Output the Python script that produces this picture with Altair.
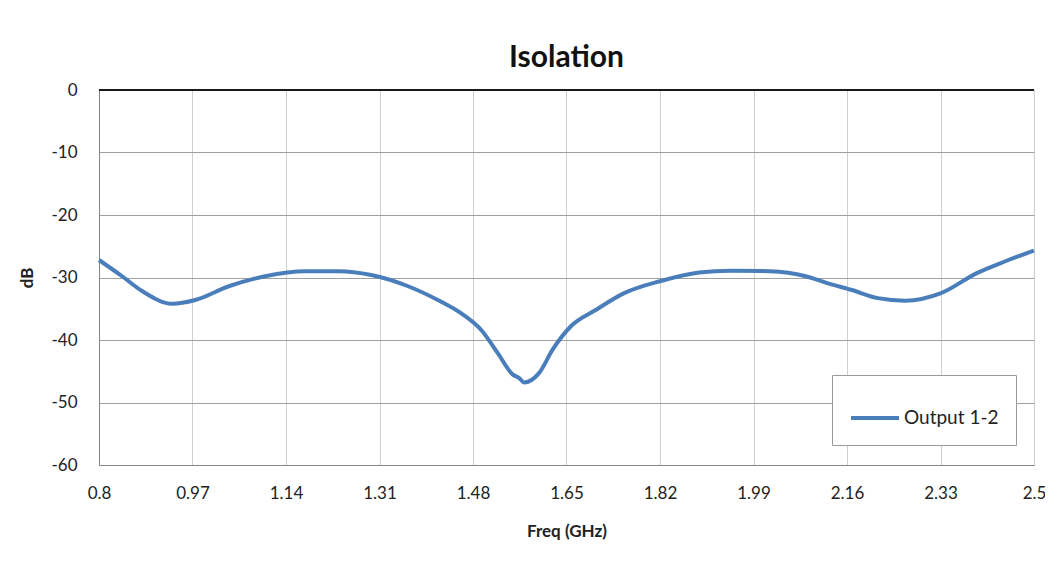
import altair as alt
import pandas as pd

freq = [0.80, 0.842, 0.879, 0.933, 0.975, 1.036, 1.102, 1.175, 1.235, 1.295,
        1.362, 1.416, 1.458, 1.495, 1.525, 1.552, 1.564, 1.573, 1.600, 1.625,
        1.658, 1.703, 1.755, 1.820, 1.891, 1.949, 2.020, 2.085, 2.124, 2.169,
        2.216, 2.266, 2.331, 2.396, 2.448, 2.50]
db = [-27.2, -29.8, -32.2, -34.2, -33.6, -31.4, -29.8, -29.0, -29.0, -29.6,
      -31.4, -33.6, -35.7, -38.4, -42.1, -45.5, -46.1, -46.8, -45.3, -41.5,
      -37.8, -35.2, -32.5, -30.6, -29.2, -28.9, -29.0, -29.8, -30.9, -32.0,
      -33.3, -33.7, -32.5, -29.3, -27.4, -25.7]
x_ticks = [0.8, 0.97, 1.14, 1.31, 1.48, 1.65, 1.82, 1.99, 2.16, 2.33, 2.5]
y_ticks = [0, -10, -20, -30, -40, -50, -60]
series = "Output 1-2"

df = pd.DataFrame({"freq": freq, "db": db, "series": series})
FONT = "Lato"

x = alt.X("freq:Q", title="Freq (GHz)",
          scale=alt.Scale(domain=[0.8, 2.5], nice=False, zero=False),
          axis=alt.Axis(values=x_ticks, format=".2~f", grid=True, gridColor="#cfcfcf",
                        ticks=False, labelPadding=20, domainColor="#868686",
                        titlePadding=22, labelFlush=False))
y = alt.Y("db:Q", title="dB",
          scale=alt.Scale(domain=[-60, 0], nice=False),
          axis=alt.Axis(values=y_ticks, grid=True, gridColor="#a0a0a0",
                        labelExpr="'' + datum.value",
                        ticks=False, labelPadding=22, domainColor="#868686",
                        titlePadding=14))

line = alt.Chart(df).mark_line(interpolate="monotone", strokeWidth=4).encode(
    x=x, y=y,
    color=alt.Color("series:N", scale=alt.Scale(range=["#4a7ebb"]),
                    legend=alt.Legend(title=None, orient="none", legendX=733, legendY=285,
                                      symbolType="stroke", symbolSize=2304,
                                      symbolStrokeWidth=4, labelFontSize=19,
                                      labelOffset=3,
                                      padding=17, fillColor="white",
                                      strokeColor="#9a9a9a", labelFont=FONT,
                                      labelColor="#222")),
)

zero = alt.Chart(pd.DataFrame({"z": [0]})).mark_rule(color="#1a1a1a", strokeWidth=2).encode(
    y=alt.Y("z:Q", scale=alt.Scale(domain=[-60, 0], nice=False))
)

chart = alt.layer(line, zero).properties(
    width=935, height=375,
    title=alt.Title("Isolation", fontSize=30, font=FONT, fontWeight="bold",
                    color="#111", offset=8),
    autosize=alt.AutoSizeParams(type="none"),
    padding={"left": 91, "top": 82, "right": 11, "bottom": 80},
).configure_axis(
    labelFont=FONT, labelFontSize=17, labelColor="#222",
    titleFont=FONT, titleFontSize=17, titleFontWeight="bold", titleColor="#222",
).configure_view(stroke=None)

chart.save("out.html", embed_options={"renderer": "svg", "actions": False})
